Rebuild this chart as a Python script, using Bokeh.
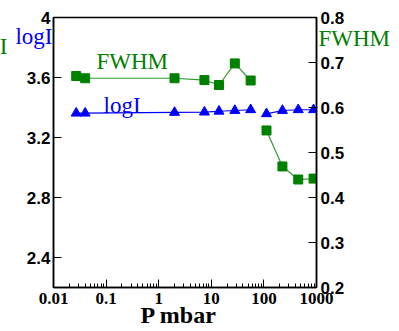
from bokeh.plotting import figure
from bokeh.models import Range1d, LinearAxis, FixedTicker, CustomJSTickFormatter, Label, Title
from bokeh.embed import file_html
from bokeh.resources import INLINE

# ---- data ----
p_low = [0.027, 0.04, 2, 7.4, 14, 28, 56]
fwhm_low = [0.670, 0.665, 0.665, 0.661, 0.650, 0.698, 0.660]
logi_low = [3.362, 3.362, 3.367, 3.369, 3.375, 3.380, 3.385]

p_high = [112, 225, 450, 880]
fwhm_high = [0.549, 0.469, 0.440, 0.442]
logi_high = [3.358, 3.380, 3.385, 3.385]

x_ticks = [0.01, 0.1, 1, 10, 100, 1000]
x_labels = ["0.01", "0.1", "1", "10", "100", "1000"]
left_ticks = [2.4, 2.8, 3.2, 3.6, 4.0]
left_labels = ["2.4", "2.8", "3.2", "3.6", "4"]
right_ticks = [0.2, 0.3, 0.4, 0.5, 0.6, 0.7, 0.8]
right_labels = ["0.2", "0.3", "0.4", "0.5", "0.6", "0.7", "0.8"]

GREEN = "#008000"
BLUE = "#0000ff"

p = figure(width=399, height=331, x_axis_type="log", title=None,
           x_range=Range1d(0.01, 1000), y_range=Range1d(2.2, 4.0),
           output_backend="svg", toolbar_location=None,
           min_border_left=53, min_border_right=83,
           min_border_top=17, min_border_bottom=44)
p.extra_y_ranges = {"fwhm": Range1d(0.2, 0.8)}
p.grid.visible = False
p.outline_line_color = "black"
p.outline_line_width = 1.5
p.background_fill_color = "white"
p.border_fill_color = "white"

minor = [m * 10.0 ** k for k in range(-2, 3) for m in range(2, 10)]

def fmt(ticks, labels):
    return CustomJSTickFormatter(args=dict(t=ticks, l=labels), code="""
        let best = 0, d = 1e99;
        for (let i = 0; i < t.length; i++) {
            const dd = Math.abs(Math.log(Math.abs(t[i]) + 1e-12) - Math.log(Math.abs(tick) + 1e-12));
            if (dd < d) { d = dd; best = i; }
        }
        return l[best];
    """)

def style_axis(ax, font, size, standoff):
    ax.major_tick_in = 8
    ax.major_tick_out = 0
    ax.minor_tick_in = 4
    ax.minor_tick_out = 0
    ax.axis_line_width = 1.5
    ax.axis_line_color = "black"
    ax.major_tick_line_color = "black"
    ax.minor_tick_line_color = "black"
    ax.major_label_text_color = "black"
    ax.major_label_text_font = font
    ax.major_label_text_font_style = "bold"
    ax.major_label_text_font_size = size
    ax.major_label_standoff = standoff

# x axis
xa = p.xaxis[0]
xa.ticker = FixedTicker(ticks=x_ticks, minor_ticks=minor)
xa.formatter = fmt(x_ticks, x_labels)
style_axis(xa, "Liberation Serif", "17px", 5)

# left axis
ya = p.yaxis[0]
ya.ticker = FixedTicker(ticks=left_ticks, minor_ticks=[])
ya.formatter = fmt(left_ticks, left_labels)
style_axis(ya, "Liberation Sans", "17px", 3)

# right axis
ra = LinearAxis(y_range_name="fwhm")
ra.ticker = FixedTicker(ticks=right_ticks, minor_ticks=[])
ra.formatter = fmt(right_ticks, right_labels)
style_axis(ra, "Liberation Sans", "17px", 4)
p.add_layout(ra, "right")

# series
p.line(p_low, fwhm_low, y_range_name="fwhm", line_color="#339933", line_width=1.2)
p.line(p_high, fwhm_high, y_range_name="fwhm", line_color="#339933", line_width=1.2)
p.scatter(p_low + p_high, fwhm_low + fwhm_high, y_range_name="fwhm", marker="square",
          size=9, fill_color=GREEN, line_color=GREEN)

p.line(p_low, logi_low, line_color=BLUE, line_width=1.2)
p.line(p_high, logi_high, line_color=BLUE, line_width=1.2)
p.scatter(p_low + p_high, logi_low + logi_high, marker="triangle",
          size=10, fill_color=BLUE, line_color=BLUE)

def lab(x, y, text, color, align="left", size="23px", style="normal"):
    # screen units: offsets from the frame's bottom-left corner
    p.add_layout(Label(x=x, y=y, x_units="screen", y_units="screen", text=text,
                       text_color=color, text_align=align,
                       text_baseline="alphabetic", text_font="Liberation Serif",
                       text_font_size=size, text_font_style=style))

lab(43, 226, "FWHM", GREEN)
lab(50, 182, "logI", BLUE)

# texts outside the frame: side-panel titles (not clipped to the frame)
def side(text, color, align, offset, standoff, size="23px", style="normal"):
    p.add_layout(Title(text=text, text_color=color, align=align, offset=offset,
                       vertical_align="bottom", standoff=standoff,
                       text_font="Liberation Serif", text_font_size=size,
                       text_font_style=style), "above")

p.add_layout(Title(text=""), "above")
side("logI", BLUE, "right", 264, -63)
side("FWHM", GREEN, "left", 265, -66)
side("I", GREEN, "right", 309, -82)
side("P mbar", "black", "left", 87, -620, size="24px", style="bold")

open("out.html", "w").write(file_html(p, INLINE))
